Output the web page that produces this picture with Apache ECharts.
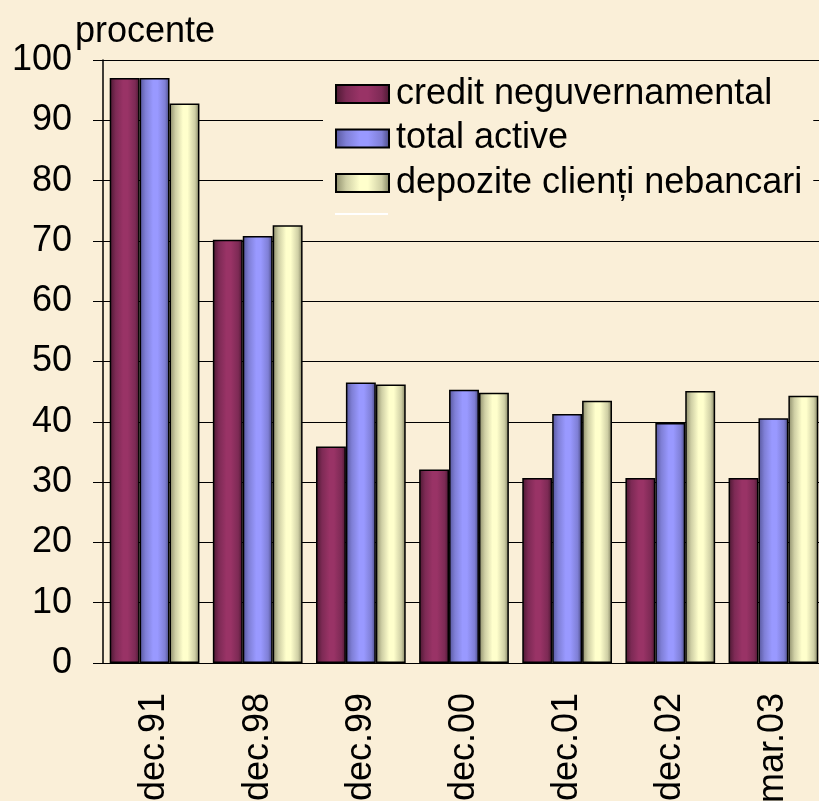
<!DOCTYPE html>
<html>
<head>
<meta charset="utf-8">
<script src="https://cdn.jsdelivr.net/npm/echarts@6/dist/echarts.min.js"></script>
<style>
  html, body { margin: 0; padding: 0; background: #FAEFD8; }
  #chart { width: 819px; height: 801px; }
</style>
</head>
<body>
<div id="chart"></div>
<script>
var categories = ['dec.91', 'dec.98', 'dec.99', 'dec.00', 'dec.01', 'dec.02', 'mar.03'];
var seriesNames = ['credit neguvernamental', 'total active', 'depozite clienți nebancari'];
var creditNeguv = [97.0, 70.2, 35.9, 32.1, 30.7, 30.7, 30.7];
var totalActive = [97.0, 70.8, 46.5, 45.3, 41.3, 39.8, 40.6];
var depozite = [92.8, 72.6, 46.2, 44.8, 43.5, 45.1, 44.3];

var FONT = 'Liberation Sans, Arial, sans-serif';
var BG = '#FAEFD8';

// cylinder-ish horizontal shading for each bar
function shade(edgeL, mid, center, edgeR) {
  return new echarts.graphic.LinearGradient(0, 0, 1, 0, [
    { offset: 0, color: edgeL },
    { offset: 0.2, color: mid },
    { offset: 0.45, color: center },
    { offset: 0.6, color: center },
    { offset: 0.85, color: mid },
    { offset: 1, color: edgeR }
  ]);
}

var fills = [
  shade('#4a1830', '#7d2a55', '#993366', '#4a1830'),
  shade('#55559a', '#7f7fd6', '#9999ff', '#48487f'),
  shade('#8a8a68', '#cfcfa5', '#ffffcc', '#7e7e5e')
];
var values = [creditNeguv, totalActive, depozite];

var series = seriesNames.map(function (name, i) {
  return {
    name: name,
    type: 'bar',
    data: values[i],
    barGap: '0%',
    barCategoryGap: '13%',
    itemStyle: { color: fills[i], borderColor: '#000', borderWidth: 1.5 }
  };
});

var chart = echarts.init(document.getElementById('chart'));
chart.setOption({
  backgroundColor: BG,
  animation: false,
  title: {
    text: 'procente',
    left: 70,
    top: 9,
    textStyle: { fontFamily: FONT, fontSize: 36, fontWeight: 'normal', color: '#000' }
  },
  legend: {
    orient: 'vertical',
    left: 323,
    top: 66,
    padding: [10, 11, 24, 12],
    backgroundColor: BG,
    itemWidth: 53,
    itemHeight: 18,
    itemGap: 8.5,
    icon: 'rect',
    data: seriesNames,
    textStyle: { fontFamily: FONT, fontSize: 36, color: '#000', lineHeight: 36, padding: [0, 0, 0, 2] }
  },
  grid: { left: 103, top: 60, width: 722, height: 603, containLabel: false, outerBoundsMode: 'none' },
  xAxis: {
    type: 'category',
    data: categories,
    boundaryGap: true,
    axisLine: { lineStyle: { color: '#000', width: 1 } },
    axisTick: { length: 12, lineStyle: { color: '#000' } },
    axisLabel: { rotate: 90, margin: 30, fontFamily: FONT, fontSize: 36, color: '#000' }
  },
  yAxis: {
    type: 'value',
    min: 0,
    max: 100,
    interval: 10,
    axisLine: { show: true, lineStyle: { color: '#000', width: 1.5 } },
    axisTick: { show: true, length: 10, lineStyle: { color: '#000' } },
    axisLabel: { margin: 31, fontFamily: FONT, fontSize: 36, color: '#000' },
    splitLine: { lineStyle: { color: '#000', width: 1.2 } }
  },
  graphic: [{
    type: 'rect',
    shape: { x: 335, y: 213, width: 53, height: 2 },
    style: { fill: '#ffffff' },
    z: 100
  }],
  series: series
});
</script>
</body>
</html>
